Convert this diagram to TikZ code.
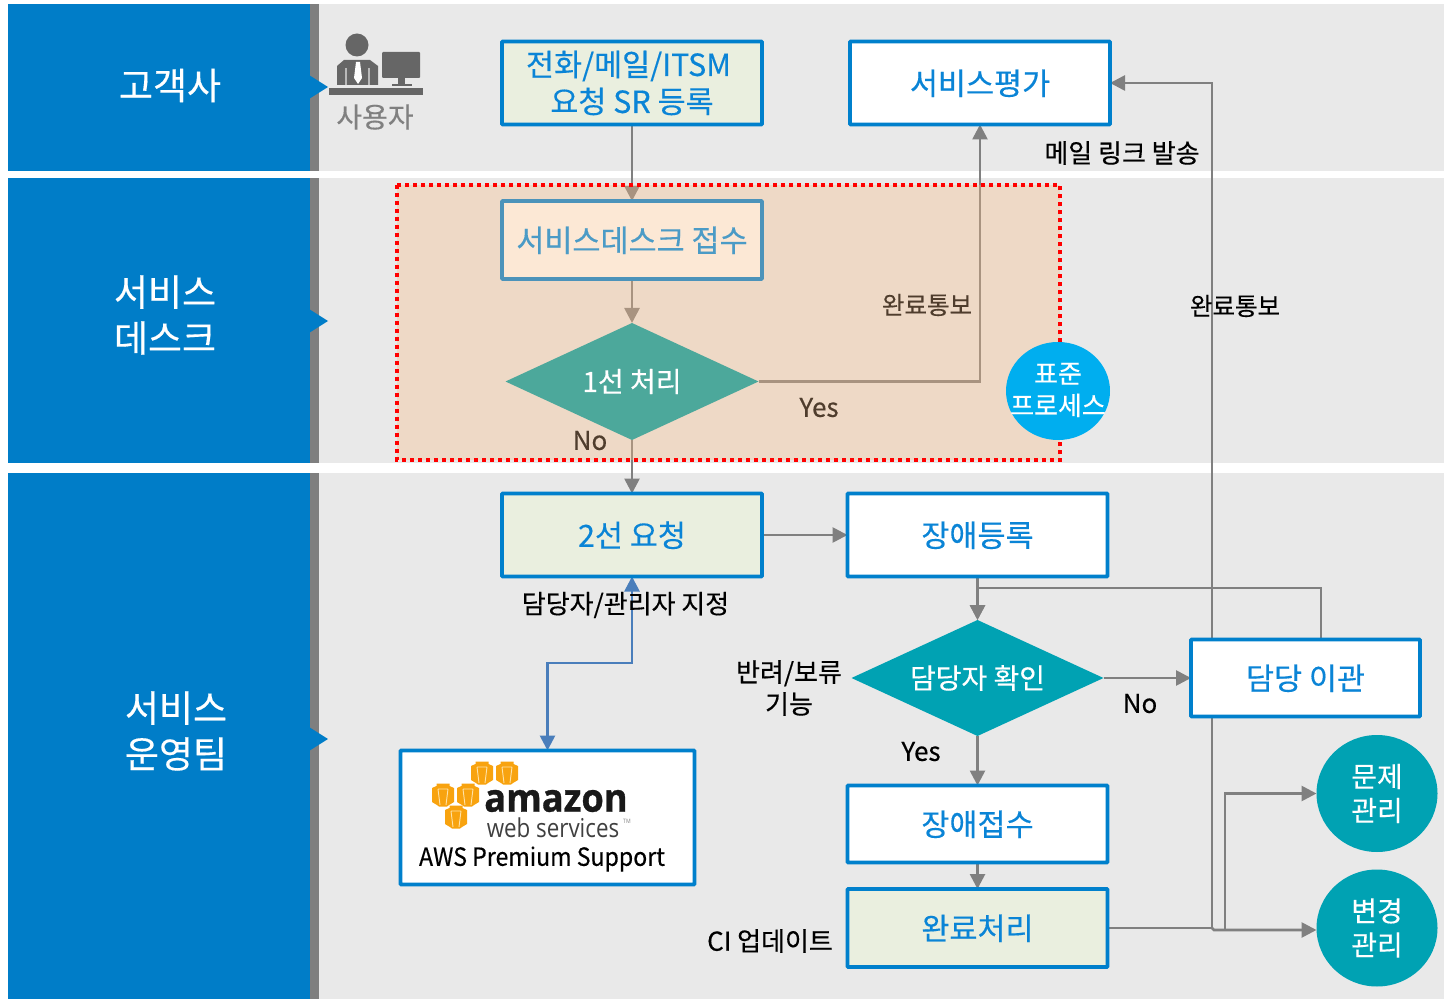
\documentclass[tikz,border=0pt]{standalone}
\usepackage{fontspec}
\setmainfont{Noto Sans CJK KR}[FakeBold=0.35]
\newfontfamily\awsbold{Open Sans}[FakeStretch=0.93,FakeBold=0.8]
\newfontfamily\awsthin{Open Sans}[FakeStretch=0.86]
\newfontfamily\awssup{Noto Sans CJK KR}[FakeStretch=0.925,FakeBold=0.35]
\usetikzlibrary{arrows.meta,shapes.geometric}
\definecolor{panelgray}{HTML}{E9E9E9}
\definecolor{sideblue}{HTML}{007DC8}
\definecolor{sidebar}{HTML}{7F7F7F}
\definecolor{linegray}{HTML}{808080}
\definecolor{boxblue}{HTML}{0080CC}
\definecolor{textblue}{HTML}{0A84D6}
\definecolor{greenfill}{HTML}{EAEFDF}
\definecolor{peach}{HTML}{FCE8D5}
\definecolor{deskline}{HTML}{4C93BA}
\definecolor{desktext}{HTML}{4B9BC6}
\definecolor{zone}{HTML}{FABA81}
\definecolor{zonetext}{HTML}{4F3D2D}
\definecolor{teala}{HTML}{4CA89B}
\definecolor{tealb}{HTML}{00A2B3}
\definecolor{skyb}{HTML}{00AEEF}
\definecolor{awsorange}{HTML}{F8A30F}
\definecolor{awsslit}{HTML}{FFE3A8}
\definecolor{awsline}{HTML}{4A7EBB}
\definecolor{icon}{HTML}{666666}
\pgfdeclarelayer{bg}
\pgfdeclarelayer{lines}
\pgfdeclarelayer{zonelayer}
\pgfsetlayers{bg,lines,zonelayer,main}
\tikzset{
  flowbox/.style={draw=boxblue,line width=3.7pt,rectangle,rounded corners=0.8pt,align=center,text=textblue,font=\fontsize{30.5}{37}\selectfont,inner sep=0pt,outer sep=0pt,execute at begin node={\rule{0pt}{0.85em}}},
  whitebox/.style={flowbox,fill=white},
  greenbox/.style={flowbox,fill=greenfill},
  deskbox/.style={flowbox,fill=peach,draw=deskline,text=desktext},
  deca/.style={diamond,aspect=2.165,inner sep=0pt,outer sep=0pt,text=white,align=center},
  round/.style={ellipse,inner sep=0pt,outer sep=0pt,text=white,align=center},
  sidelabel/.style={text=white,align=center,font=\fontsize{37}{46}\selectfont,inner sep=0pt},
  note/.style={text=black,align=center,font=\fontsize{26}{32}\selectfont,inner sep=0pt},
  smallnote/.style={note,font=\fontsize{24.5}{30}\selectfont},
  conn/.style={draw=linegray,line width=2.7pt,-{Triangle[length=15pt,width=15pt]}},
  notch/.style={fill=sideblue,draw=none},
  cube/.pic={
    \fill[awsorange] (-6.5,-11.5) -- (6.5,-11.5) -- (6.5,-9) -- (11,-7) -- (11,7) -- (6,10) -- (4,11.5) -- (-4,11.5) -- (-6,10) -- (-11,7) -- (-11,-7) -- (-6.5,-9) -- cycle;
    \draw[awsslit,line width=0.9pt] (-5,-6) -- (5,-6) (-5,-6) -- (-3,10) (5,-6) -- (3,10);
  }
}
\begin{document}
\begin{tikzpicture}[x=1pt,y=-1pt]
\useasboundingbox (0,0) rectangle (1444,1000);
\begin{pgfonlayer}{bg}
  \fill[white] (0,0) rectangle (1444,1000);
  \foreach \ya/\yb in {4/171,178/463,473/999}{
    \fill[panelgray] (319,\ya) rectangle (1444,\yb);
    \fill[sidebar] (309,\ya) rectangle (319,\yb);
    \fill[sideblue] (8,\ya) rectangle (310,\yb);
  }
  \foreach \ym in {87,321,739}{
    \fill[notch] (309,\ym-12) -- (328,\ym) -- (309,\ym+12) -- cycle;
  }
\end{pgfonlayer}
\begin{pgfonlayer}{zonelayer}
  \fill[zone,opacity=0.33] (397,185) rectangle (1060,460);
  \draw[red,line width=3.6pt,dash pattern=on 3.6pt off 4.4pt] (397,185) rectangle (1060,460);
\end{pgfonlayer}

% side labels
\node[sidelabel] (lane1) at (170,85.5) {고객사};
\node[sidelabel] (lane2) at (165,315) {서비스\\데스크};
\node[sidelabel] (lane3) at (176,731) {서비스\\운영팀};

% user icon
\fill[icon] (357,45) circle (11.5);
\fill[icon] (337,85) -- (337,66) -- (344,60) -- (370,60) -- (378,66) -- (378,85) -- cycle;
\fill[white] (356,62) -- (360,62) -- (362,78) -- (358,84) -- (354,78) -- cycle;
\draw[gray!55,line width=1.4pt] (346,68) -- (346,85) (369,68) -- (369,85);
\fill[icon,rounded corners=1pt] (382,52) rectangle (420,78);
\fill[icon] (398,78) rectangle (405,84);
\fill[icon] (392,84) rectangle (412,86);
\fill[icon] (329,88) rectangle (423,95);
\node[text=gray,font=\fontsize{28}{34}\selectfont,inner sep=0pt] (user) at (375,117) {사용자};

% flow nodes
\node[greenbox,minimum width=260,minimum height=83] (sr) at (632,83) {전화/메일/ITSM\hspace*{7pt}\\요청 SR 등록};
\node[whitebox,minimum width=260,minimum height=83] (eval) at (980,83) {서비스평가};
\node[deskbox,minimum width=260,minimum height=78] (desk) at (632,240) {서비스데스크 접수};
\node[deca,fill=teala,minimum width=253,minimum height=117,font=\fontsize{28}{34}\selectfont] (first) at (632,381.5) {1선 처리};
\node[round,fill=skyb,minimum width=104,minimum height=98] (std) at (1058,391) {};
\node[text=white,align=center,inner sep=0pt,font=\fontsize{26}{32}\selectfont] (stdt) at (1058,390) {표준\\프로세스};
\node[greenbox,minimum width=260,minimum height=83] (second) at (632,535) {2선 요청};
\node[whitebox,minimum width=260,minimum height=83] (fault) at (977.5,535) {장애등록};
\node[deca,fill=tealb,minimum width=252,minimum height=116,font=\fontsize{28}{34}\selectfont] (check) at (977.5,678) {담당자 확인};
\node[whitebox,minimum width=229,minimum height=77] (move) at (1305.5,678) {담당 이관};
\node[whitebox,minimum width=260,minimum height=77] (recv) at (977.5,824) {장애접수};
\node[greenbox,minimum width=260,minimum height=78] (done) at (977.5,928) {완료처리};
\node[round,fill=tealb,minimum width=121,minimum height=117,font=\fontsize{28}{34}\selectfont] (prob) at (1377,793.5) {문제\\관리};
\node[round,fill=tealb,minimum width=121,minimum height=117,font=\fontsize{28}{34}\selectfont] (chg) at (1377,928) {변경\\관리};
\node[whitebox,minimum width=294,minimum height=134] (aws) at (547.5,817.5) {};

% AWS logo
\foreach \cx/\cy in {482/773,507/773,443/795,468/795,456/817}{
  \pic at (\cx,\cy) {cube};
}
\node[inner sep=0pt,font=\awsbold\bfseries\fontsize{39}{39}\selectfont,text=black!90] (awsa) at (556,801) {amazon};
\node[inner sep=0pt,font=\awsthin\fontsize{26}{26}\selectfont,text=black!75] (awsb) at (553,828) {web services};
\node[inner sep=0pt,font=\awsthin\fontsize{6}{6}\selectfont,text=gray,anchor=west] (awsc) at (623,821) {TM};
\node[inner sep=0pt,font=\awssup\fontsize{25}{30}\selectfont,text=black] (awst) at (542,859) {AWS Premium Support};

% notes
\node[note] (n1) at (1122,153) {메일 링크 발송};
\node[smallnote,text=zonetext] (n2) at (927,305) {완료통보};
\node[smallnote] (n3) at (1235,306) {완료통보};
\node[note,text=zonetext] (n4) at (819,407.5) {Yes};
\node[note,text=zonetext] (n5) at (590,440.5) {No};
\node[note] (n6) at (625.5,605) {담당자/관리자 지정};
\node[note] (n7) at (789,688) {반려/보류\\기능};
\node[note] (n8) at (1140,703.5) {No};
\node[note] (n9) at (921,751.5) {Yes};
\node[note] (n10) at (770,941) {CI 업데이트};

% connectors
\begin{pgfonlayer}{lines}
  \coordinate (jn) at (1212,928);
  \coordinate (jm) at (1214,930);
  \coordinate (jb) at (1225,930);
  \coordinate (lb) at (547.5,663);
  \coordinate (lt) at (632,663);
  \coordinate (rt) at (1321,588);
  \draw[conn] (sr.south) -- (desk.north);
  \draw[conn] (desk.south) -- (first.north);
  \draw[conn] (first.south) -- (second.north);
  \draw[conn] (first.east) -| (eval.south);
  \draw[conn] (second.east) -- (fault.west);
  \draw[conn] (fault.south) -- (check.north);
  \draw[conn] (check.east) -- (move.west);
  \draw[conn] (check.south) -- (recv.north);
  \draw[conn] (recv.south) -- (done.north);
  \draw[conn] (rt |- move.north) -- (rt) -- (rt -| check.north) -- (check.north);
  \draw[conn] (done.east) -- (jn) |- (eval.east);
  \draw[conn] (jn) -- (jm) -- (jm -| chg.west);
  \draw[conn] (jb) |- (prob.west);
  \draw[draw=awsline,line width=2.7pt,{Triangle[length=15pt,width=15pt]}-{Triangle[length=15pt,width=15pt]}] (second.south) -- (lt) -- (lb) -- (aws.north);
\end{pgfonlayer}
\end{tikzpicture}
\end{document}
